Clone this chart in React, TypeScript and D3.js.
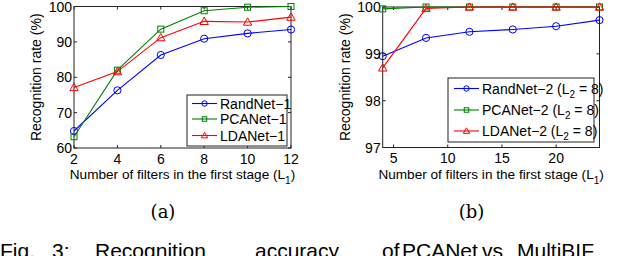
import React from 'react';
import {scaleLinear, line} from 'd3';

// panel (a): single-stage nets
const filtersA = [2, 4, 6, 8, 10, 12];
const randNet1 = [64.8, 76.3, 86.3, 90.9, 92.4, 93.5];
const pcaNet1 = [63.2, 82.0, 93.6, 98.8, 99.8, 100];
const ldaNet1 = [77.1, 81.6, 91.2, 95.8, 95.6, 97.0];
const ticksXA = [2, 4, 6, 8, 10, 12];
const ticksYA = [60, 70, 80, 90, 100];

// panel (b): two-stage nets, L2 = 8
const filtersB = [4, 8, 12, 16, 20, 24];
const randNet2 = [98.95, 99.34, 99.47, 99.52, 99.59, 99.72];
const pcaNet2 = [99.96, 100, 100, 100, 100, 100];
const ldaNet2 = [98.70, 99.97, 100, 100, 100, 100];
const ticksXB = [5, 10, 15, 20];
const ticksYB = [97, 98, 99, 100];

const BLUE = '#0000ff';
const GREEN = '#008000';
const RED = '#ff0000';
const FONT = '"Liberation Sans", Arial, Helvetica, sans-serif';

type Shape = 'circle' | 'square' | 'triangle';

const Marker = ({x, y, shape, color, s = 1}: {x: number; y: number; shape: Shape; color: string; s?: number}) => {
  if (shape === 'circle') return <circle cx={x} cy={y} r={3.6 * s} fill="none" stroke={color} strokeWidth={1} />;
  if (shape === 'square') {
    const h = 3 * s;
    return <rect x={x - h} y={y - h} width={2 * h} height={2 * h} fill="none" stroke={color} strokeWidth={1} />;
  }
  const w = 4.2 * s;
  return <path d={`M${x},${y - w}L${x + w},${y + w * 0.75}L${x - w},${y + w * 0.75}Z`} fill="none" stroke={color} strokeWidth={1} />;
};

type Series = {name: string; sub?: boolean; values: number[]; color: string; shape: Shape};

const Panel = (props: {
  xs: number[]; series: Series[]; xDomain: [number, number]; yDomain: [number, number];
  xRange: [number, number]; yRange: [number, number]; ticksX: number[]; ticksY: number[];
  yLabelX: number; legend: {x: number; y: number; w: number; h: number; rows: number[]; lineX: [number, number]};
  caption: string; captionX: number;
}) => {
  const {xs, series, ticksX, ticksY, legend} = props;
  const x = scaleLinear().domain(props.xDomain).range(props.xRange);
  const y = scaleLinear().domain(props.yDomain).range(props.yRange);
  const [x0, x1] = props.xRange;
  const [y0, y1] = [props.yRange[1], props.yRange[0]];
  const midX = (x0 + x1) / 2;
  const midY = (y0 + y1) / 2;
  const tk = 3;

  return (
    <g fontFamily={FONT}>
      {ticksX.map(t => (
        <g key={'tx' + t}>
          <line x1={x(t)} x2={x(t)} y1={y1} y2={y1 - tk} stroke="#222" />
          <line x1={x(t)} x2={x(t)} y1={y0} y2={y0 + tk} stroke="#222" />
          <text x={x(t)} y={y1 + 15.5} fontSize={14} textAnchor="middle">{t}</text>
        </g>
      ))}
      {ticksY.map(t => (
        <g key={'ty' + t}>
          <line x1={x0} x2={x0 + tk} y1={y(t)} y2={y(t)} stroke="#222" />
          <line x1={x1} x2={x1 - tk} y1={y(t)} y2={y(t)} stroke="#222" />
          <text x={x0 - 2} y={y(t) + 5} fontSize={14} textAnchor="end">{t}</text>
        </g>
      ))}
      <rect x={x0} y={y0} width={x1 - x0} height={y1 - y0} fill="none" stroke="#222" strokeWidth={1} />
      {series.map(s => {
        const pts = xs.map((v, i) => [x(v), y(s.values[i])] as [number, number]);
        return (
          <g key={s.name}>
            <path d={line()(pts) || ''} fill="none" stroke={s.color} strokeWidth={1.1} />
            {pts.map((p, i) => <Marker key={i} x={p[0]} y={p[1]} shape={s.shape} color={s.color} />)}
          </g>
        );
      })}
      <rect x={legend.x} y={legend.y} width={legend.w} height={legend.h} fill="#fff" stroke="#222" strokeWidth={1} />
      {series.map((s, i) => {
        const ry = legend.rows[i];
        const mx = (legend.lineX[0] + legend.lineX[1]) / 2;
        return (
          <g key={'lg' + s.name}>
            <line x1={legend.lineX[0]} x2={legend.lineX[1]} y1={ry} y2={ry} stroke={s.color} strokeWidth={1.1} />
            <Marker x={mx} y={ry} shape={s.shape} color={s.color} s={0.75} />
            <text x={legend.lineX[1] + 3} y={ry + 5} fontSize={14}>
              {s.name}
              {s.sub && <>{' (L'}<tspan fontSize={10} dy={4}>2</tspan><tspan dy={-4}>{' = 8)'}</tspan></>}
            </text>
          </g>
        );
      })}
      <text x={midX} y={179} fontSize={13.6} textAnchor="middle">
        Number of filters in the first stage (L<tspan fontSize={10} dy={5}>1</tspan><tspan dy={-5}>)</tspan>
      </text>
      <text transform={`translate(${props.yLabelX},${midY}) rotate(-90)`} fontSize={14} textAnchor="middle">
        Recognition rate (%)
      </text>
      <text x={props.captionX} y={218} fontSize={18} textAnchor="middle" fontFamily='"DejaVu Serif", "Liberation Serif", serif'>
        {props.caption}
      </text>
    </g>
  );
};

const App = () => {
  const seriesA: Series[] = [
    {name: 'RandNet−1', values: randNet1, color: BLUE, shape: 'circle'},
    {name: 'PCANet−1', values: pcaNet1, color: GREEN, shape: 'square'},
    {name: 'LDANet−1', values: ldaNet1, color: RED, shape: 'triangle'},
  ];
  const seriesB: Series[] = [
    {name: 'RandNet−2', sub: true, values: randNet2, color: BLUE, shape: 'circle'},
    {name: 'PCANet−2', sub: true, values: pcaNet2, color: GREEN, shape: 'square'},
    {name: 'LDANet−2', sub: true, values: ldaNet2, color: RED, shape: 'triangle'},
  ];
  return (
    <svg width={640} height={256} style={{position: 'absolute', left: 0, top: 0, background: '#fff'}}>
      <rect width={640} height={256} fill="#fff" />
      <Panel xs={filtersA} series={seriesA} xDomain={[2, 12]} yDomain={[60, 100]}
        xRange={[74, 291]} yRange={[148, 6.5]} ticksX={ticksXA} ticksY={ticksYA} yLabelX={41}
        legend={{x: 187, y: 95, w: 100, h: 51, rows: [103.5, 119, 135.5], lineX: [192, 217]}}
        caption="(a)" captionX={163} />
      <Panel xs={filtersB} series={seriesB} xDomain={[4, 24]} yDomain={[97, 100]}
        xRange={[382.7, 599.5]} yRange={[147.5, 7]} ticksX={ticksXB} ticksY={ticksYB} yLabelX={350}
        legend={{x: 448, y: 78, w: 146, h: 64, rows: [88.5, 110, 131], lineX: [454, 479]}}
        caption="(b)" captionX={471.5} />
      <text y={258} fontSize={21} fontFamily={FONT}>
        <tspan x={0}>Fig.</tspan>
        <tspan x={52}>3:</tspan>
        <tspan x={95}>Recognition</tspan>
        <tspan x={255}>accuracy</tspan>
        <tspan x={382}>of</tspan>
        <tspan x={402}>PCANet</tspan>
        <tspan x={482}>vs</tspan>
        <tspan x={517}>MultiBIF</tspan>
      </text>
    </svg>
  );
};

export default App;
